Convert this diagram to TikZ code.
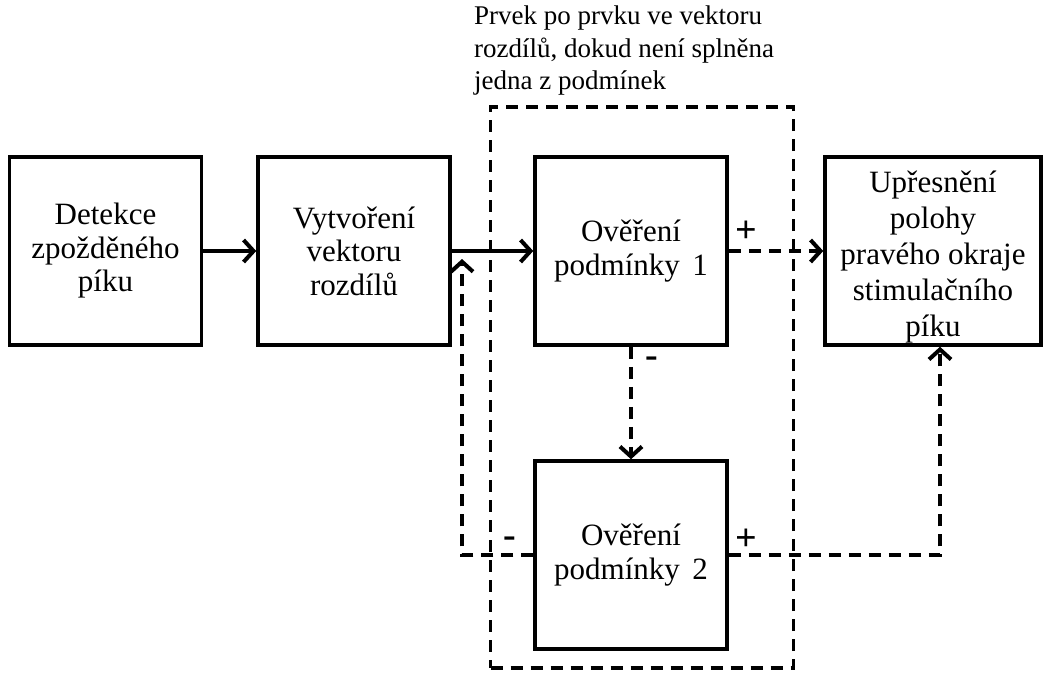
\documentclass[tikz,border=0pt]{standalone}
\usepackage{fontspec}
\setmainfont{Liberation Serif}
\usetikzlibrary{arrows.meta}
\begin{document}
\begin{tikzpicture}[x=1pt,y=-1pt,
  blk/.style={draw, line width=3.5pt, minimum width=192pt, minimum height=188pt, align=center, font=\fontsize{31}{33.5}\selectfont, inner sep=1pt},
  conn/.style={line width=3.5pt, -{Straight Barb[length=10pt,width=22pt,line width=4pt]}},
  dconn/.style={conn, dash pattern=on 12pt off 8pt},
  sign/.style={font=\bfseries\fontsize{38}{38}\selectfont, inner sep=0pt}]
\useasboundingbox (0,0) rectangle (1043,675);
\node[blk] (b1) at (105.5,251) {Detekce\\zpožděného\\píku};
\node[blk] (b2) at (354,251) {Vytvoření\\vektoru\\rozdílů};
\node[blk] (b3) at (631,251) {Ověření\\podmínky\hspace{0.4em}1};
\node[blk] (b4) at (631,555) {Ověření\\podmínky\hspace{0.4em}2};
\node[draw, line width=3.5pt, minimum width=216pt, minimum height=188pt] (b5) at (933,251) {};
\node[align=center, inner sep=0pt, font=\fontsize{31}{36}\selectfont] (b5t) at (933,257) {Upřesnění\\polohy\\pravého okraje\\stimulačního\\píku};
\node[draw, line width=3.5pt, dash pattern=on 12pt off 8pt, minimum width=303pt, minimum height=561pt] (outer) at (642,387.5) {};
\node[anchor=north west, align=left, font=\fontsize{27}{32.5}\selectfont, inner sep=0pt] (lbl) at (474,6) {Prvek po prvku ve vektoru\\rozdílů, dokud není splněna\\jedna z podmínek};
\coordinate (j1) at (462,259);
\coordinate (j2) at (940,555);
\draw[conn] (b1.east) -- (b2.west);
\draw[conn] (b2.east) -- (b3.west);
\draw[dconn] (b3.east) -- (b5.west);
\draw[dconn] (b3.south) -- (b4.north);
\draw[dconn] (b4.west) -| (j1);
\draw[dconn] (b4.east) -- (j2) -- (j2 |- b5.south);
\node[sign] (p1) at (746,232) {+};
\node[sign] (m1) at (652,362) {-};
\node[sign] (m2) at (510,542) {-};
\node[sign] (p2) at (746,540) {+};
\end{tikzpicture}
\end{document}
